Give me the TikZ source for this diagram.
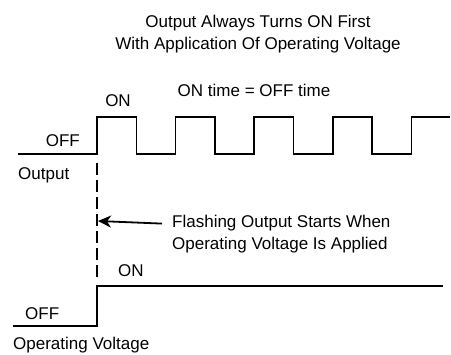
\documentclass[tikz,border=0pt]{standalone}
\usepackage{fontspec}
\setmainfont{Liberation Sans}
\usetikzlibrary{calc,arrows.meta}

\tikzset{
  lbl/.style={inner sep=0pt,font=\fontsize{17}{20}\selectfont},
  wave/.style={line width=1.6pt,line join=miter},
  marker/.style={line width=1.8pt,dash pattern=on 12pt off 5pt},
}

\begin{document}
\begin{tikzpicture}[x=1pt,y=-1pt]
  \useasboundingbox (0,0) rectangle (451,355);

  % titles
  \node[lbl,anchor=base] (T1) at (258,28) {Output Always Turns ON First};
  \node[lbl,anchor=base] (T2) at ($(T1.base)+(0,22)$) {With Application Of Operating Voltage};

  % output waveform
  \coordinate (O0) at (18,154);
  \coordinate (E0) at (97,154);
  \draw[wave] (O0) -- (E0)
    \foreach \k in {0,...,3} {
      -- ++(0,-37) -- ++(39.3,0) -- ++(0,37) -- ++(39.3,0)
    } -- ++(0,-37) coordinate (E1) -- (450,117);
  \node[lbl,anchor=base] (On1) at (118,107) {ON};
  \node[lbl,anchor=base] (OnOff) at (254,97) {ON time = OFF time};
  \node[lbl,anchor=base east] (Off1) at (80,147) {OFF};
  \node[lbl,anchor=base west] (Out) at (18,180) {Output};

  % start marker
  \coordinate (M0) at (97,163);
  \coordinate (M1) at (97,280);
  \draw[marker] (M0) -- (M1);
  \node[lbl,anchor=base west] (F1) at (172,228) {Flashing Output Starts When};
  \node[lbl,anchor=base west] (F2) at ($(F1.base west)+(0,22)$) {Operating Voltage Is Applied};
  \coordinate (Hit) at (98,221);
  \draw[-{Stealth[length=13pt,width=12pt,inset=4pt]},line width=1.8pt] ($(F1.west)+(-10,0)$) -- (Hit);

  % operating voltage
  \coordinate (V0) at (13,326);
  \coordinate (V1) at (97,326);
  \coordinate (V2) at (97,286);
  \coordinate (V3) at (443,286);
  \draw[wave] (V0) -- (V1) -- (V2) -- (V3);
  \node[lbl,anchor=base west] (On2) at (118,277) {ON};
  \node[lbl,anchor=base west] (Off2) at (25,320) {OFF};
  \node[lbl,anchor=base west] (Volt) at (13,350) {Operating Voltage};
\end{tikzpicture}
\end{document}
